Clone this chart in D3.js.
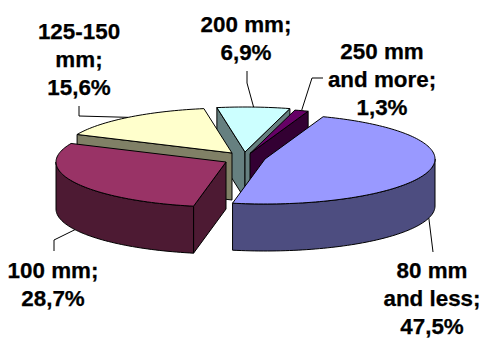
<!DOCTYPE html>
<html>
<head>
<meta charset="utf-8">
<script src="https://cdn.jsdelivr.net/npm/d3@7"></script>
<style>
  html, body { margin: 0; padding: 0; background: #fff; }
  svg { display: block; }
  text { font-family: "Liberation Sans", Arial, sans-serif; font-weight: bold; font-size: 22.4px; fill: #000; stroke: #000; stroke-width: 0.25px; }
</style>
</head>
<body>
<svg id="chart" width="483" height="338"></svg>
<script>
// Pipe diameter shares, clockwise from the first slice
const categories = ["80 mm and less", "100 mm", "125-150 mm", "200 mm", "250 mm and more"];
const shares = [47.5, 28.7, 15.6, 6.9, 1.3];
const nameLines = [["80 mm", "and less;"], ["100 mm;"], ["125-150", "mm;"], ["200 mm;"], ["250 mm", "and more;"]];
const topColors = ["#9999ff", "#993366", "#ffffcc", "#ccffff", "#660066"];
const wallColors = ["#4d4d80", "#4d1a33", "#808066", "#668080", "#330033"];

// Pie geometry: tilted ellipse, extruded downward, each slice pulled out on its own
const rx = 170, ry = 45, depth = 47;
const hubs = [[265, 159], [226, 162], [232, 153], [245, 152], [250, 153.5]];
const paintOrder = [3, 4, 2, 1, 0];

// Label placement: centre x, first baseline, and the leader's elbow points after the rim anchor
const labelPos = [[432, 278], [53, 278], [79, 39], [246, 32], [382, 59]];
const leaderTail = [
  [[433, 252]],
  [[54, 240], [54, 251]],
  [[79, 116], [79, 106]],
  [[247, 83], [247, 71]],
  [[312, 78], [323, 78]]
];
const leaderOnWall = [true, true, false, false, false];
const lineGap = 28;

const rad = d => d * Math.PI / 180;
const svg = d3.select("#chart");
const arcs = d3.pie().sort(null).startAngle(rad(20)).endAngle(rad(380))(shares);
const outline = d3.line();

// Point on a slice's rim at pie angle t, dropped by z for the lower edge
const rim = (i, t, z = 0) => [hubs[i][0] + rx * Math.sin(t), hubs[i][1] - ry * Math.cos(t) + z];
const sweep = (i, a, b, z = 0) => {
  const n = Math.max(2, Math.ceil((b - a) / rad(1.5)));
  return d3.range(n + 1).map(k => rim(i, a + (b - a) * k / n, z));
};
const hubAt = (i, z = 0) => [hubs[i][0], hubs[i][1] + z];

const drawFace = (points, fill) => svg.append("path")
  .attr("d", outline(points) + "Z")
  .attr("fill", fill)
  .attr("stroke", "#000")
  .attr("stroke-width", 1)
  .attr("stroke-linejoin", "round");

paintOrder.forEach(i => {
  const { startAngle: a, endAngle: b } = arcs[i];
  const wall = wallColors[i];

  // Radial cut walls that face the viewer
  if (Math.sin(a) < 0) drawFace([hubAt(i), rim(i, a), rim(i, a, depth), hubAt(i, depth)], wall);
  if (Math.sin(b) > 0) drawFace([hubAt(i), rim(i, b), rim(i, b, depth), hubAt(i, depth)], wall);

  // Curved outer wall, only along the front half of the ellipse
  const from = Math.max(a, rad(90)), to = Math.min(b, rad(270));
  if (to > from) drawFace([...sweep(i, from, to), ...sweep(i, from, to, depth).reverse()], wall);

  // Top face
  drawFace([hubAt(i), ...sweep(i, a, b)], topColors[i]);
});

// Leader lines start on the rim at each slice's mid angle
arcs.forEach((d, i) => {
  const mid = (d.startAngle + d.endAngle) / 2;
  const start = rim(i, mid, leaderOnWall[i] ? depth : 0);
  svg.append("path")
    .attr("d", d3.line()([start, ...leaderTail[i]]))
    .attr("fill", "none")
    .attr("stroke", "#000")
    .attr("stroke-width", 1);
});

// Category and percentage labels, using a decimal comma
const pct = v => d3.format(".1f")(v).replace(".", ",") + "%";
categories.forEach((c, i) => {
  const lines = [...nameLines[i], pct(shares[i])];
  const label = svg.append("text")
    .attr("text-anchor", "middle")
    .attr("aria-label", c);
  lines.forEach((line, k) => label.append("tspan")
    .attr("x", labelPos[i][0])
    .attr("y", labelPos[i][1] + k * lineGap)
    .text(line));
});
</script>
</body>
</html>
